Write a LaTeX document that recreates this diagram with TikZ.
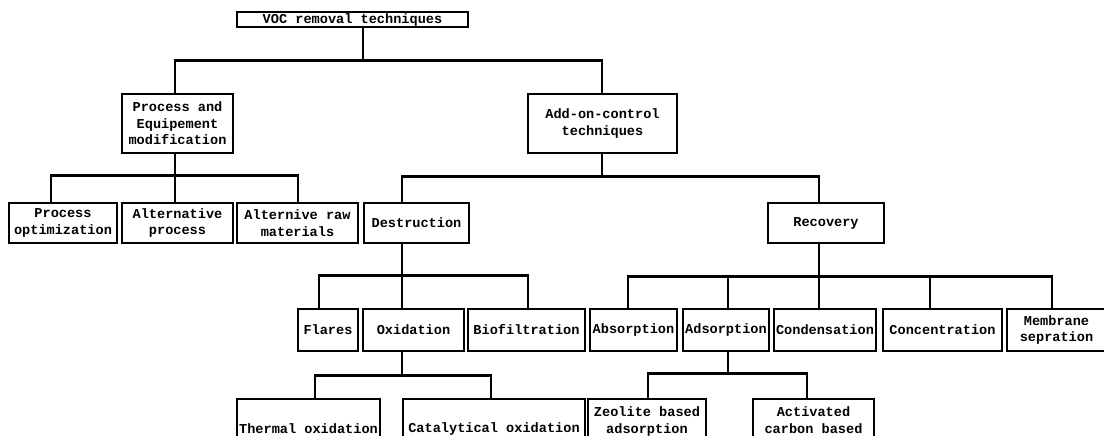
\documentclass[tikz,border=0pt]{standalone}
\usepackage{fontspec}
\setmonofont{Liberation Mono}
\usetikzlibrary{shadows}

\begin{document}
\begin{tikzpicture}[x=1pt,y=-1pt,
            box/.style={draw,line width=1.4pt,fill=white,inner sep=0pt,align=center,
                font=\ttfamily\bfseries\fontsize{13.6}{16.5}\selectfont,
                general shadow={fill=black,shadow xshift=1.3pt,shadow yshift=-1.3pt}},
            link/.style={line width=2.5pt}]
            \useasboundingbox (0,0) rectangle (1104,436);
            \clip (0,0) rectangle (1104,436);

            \node[box,minimum width=231pt,minimum height=15pt] (voc) at (352.5,19.5) {VOC removal techniques};

            \node[box,minimum width=111pt,minimum height=59pt] (modif) at (177.5,123.5) {Process and\\Equipement\\modification};
            \node[box,minimum width=149pt,minimum height=59pt] (addon) at (602.5,123.5) {Add-on-control\\techniques};

            \node[box,minimum width=108pt,minimum height=40pt] (popt) at (63,223) {Process\\optimization};
            \node[box,minimum width=111pt,minimum height=40pt] (altproc) at (177.5,223) {Alternative\\process};
            \node[box,minimum width=121pt,minimum height=40pt] (altraw) at (297.5,223) {Alternive raw\\materials};
            \node[box,minimum width=105pt,minimum height=40pt] (destr) at (416.5,223) {Destruction};
            \node[box,minimum width=116pt,minimum height=40pt] (recov) at (826,223) {Recovery};

            \node[box,minimum width=60pt,minimum height=42pt] (flares) at (328,330) {Flares};
            \node[box,minimum width=101pt,minimum height=42pt] (oxid) at (413.5,330) {Oxidation};
            \node[box,minimum width=117pt,minimum height=42pt] (biofilt) at (526.5,330) {Biofiltration};
            \node[box,minimum width=87pt,minimum height=42pt] (absorb) at (633.5,330) {Absorption};
            \node[box,minimum width=86pt,minimum height=42pt] (adsorb) at (726,330) {Adsorption};
            \node[box,minimum width=102pt,minimum height=42pt] (cond) at (825,330) {Condensation};
            \node[box,minimum width=119pt,minimum height=42pt] (conc) at (942.5,330) {Concentration};
            \node[box,minimum width=99pt,minimum height=42pt] (membr) at (1056.5,330) {Membrane\\sepration};

            \node[box,minimum width=143pt,minimum height=59pt] (thermal) at (308.5,428.5) {Thermal oxidation};
            \node[box,minimum width=182pt,minimum height=59pt] (catal) at (494,428.5) {Catalytical oxidation};
            \node[box,minimum width=118pt,minimum height=59pt] (zeolite) at (647,428.5) {Zeolite based\\adsorption\\\mbox{}};
            \node[box,minimum width=121pt,minimum height=59pt] (actcarb) at (813.5,428.5) {Activated\\carbon based\\\mbox{}};

            \draw[link] (voc.south -| 363,0) -- ++(0,33) -| (modif.north -| 175,0);
            \draw[link] (voc.south -| 363,0) -- ++(0,33) -| (addon.north -| 602,0);

            \draw[link] (modif.south -| 175,0) -- ++(0,22) -| (popt.north -| 51,0);
            \draw[link] (modif.south -| 175,0) -- ++(0,22) -| (altproc.north -| 175,0);
            \draw[link] (modif.south -| 175,0) -- ++(0,22) -| (altraw.north -| 298,0);

            \draw[link] (addon.south -| 602,0) -- ++(0,23) -| (destr.north -| 402,0);
            \draw[link] (addon.south -| 602,0) -- ++(0,23) -| (recov.north -| 819,0);

            \draw[link] (destr.south -| 402,0) -- ++(0,32) -| (flares.north -| 319,0);
            \draw[link] (destr.south -| 402,0) -- ++(0,32) -| (oxid.north -| 402,0);
            \draw[link] (destr.south -| 402,0) -- ++(0,32) -| (biofilt.north -| 528,0);

            \draw[link] (recov.south -| 819,0) -- ++(0,33) -| (absorb.north -| 628,0);
            \draw[link] (recov.south -| 819,0) -- ++(0,33) -| (adsorb.north -| 728,0);
            \draw[link] (recov.south -| 819,0) -- ++(0,33) -| (cond.north -| 819,0);
            \draw[link] (recov.south -| 819,0) -- ++(0,33) -| (conc.north -| 930,0);
            \draw[link] (recov.south -| 819,0) -- ++(0,33) -| (membr.north -| 1052,0);

            \draw[link] (oxid.south -| 402,0) -- ++(0,24) -| (thermal.north -| 315,0);
            \draw[link] (oxid.south -| 402,0) -- ++(0,24) -| (catal.north -| 491,0);

            \draw[link] (adsorb.south -| 728,0) -- ++(0,22) -| (zeolite.north -| 648,0);
            \draw[link] (adsorb.south -| 728,0) -- ++(0,22) -| (actcarb.north -| 807,0);
        \end{tikzpicture}
\end{document}
